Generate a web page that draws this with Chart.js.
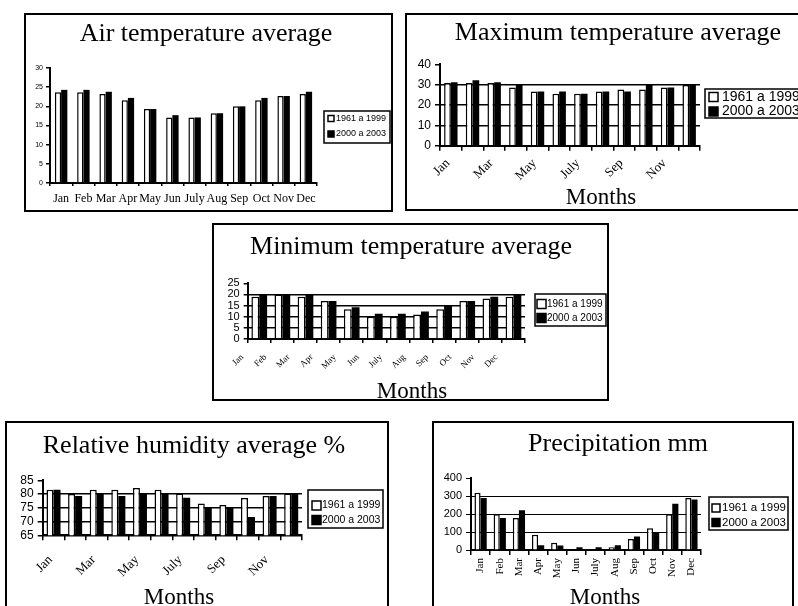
<!DOCTYPE html>
<html><head><meta charset="utf-8">
<script src="https://cdn.jsdelivr.net/npm/chart.js@4.4.1/dist/chart.umd.min.js"></script>
<style>
html,body{margin:0;padding:0;background:#fff;width:798px;height:606px;overflow:hidden;position:relative}
.box{position:absolute;border:2px solid #000;box-sizing:border-box;background:#fff}
.box canvas{display:block}
</style></head><body>
<div class="box" id="b1"><canvas id="c1"></canvas></div>
<div class="box" id="b2"><canvas id="c2"></canvas></div>
<div class="box" id="b3"><canvas id="c3"></canvas></div>
<div class="box" id="b4"><canvas id="c4"></canvas></div>
<div class="box" id="b5"><canvas id="c5"></canvas></div>
<script>
// ---------- data ----------
const months = ['Jan','Feb','Mar','Apr','May','Jun','July','Aug','Sep','Oct','Nov','Dec'];
const seriesLabels = ['1961 a 1999','2000 a 2003'];

const airTemp1961 = [23.7,23.7,23.2,21.6,19.3,17.1,17.1,18.2,20.0,21.6,22.7,23.2];
const airTemp2000 = [24.3,24.3,23.8,22.2,19.3,17.7,17.1,18.2,20.0,22.2,22.7,23.8];

const maxTemp1961 = [30.8,30.8,30.8,28.6,26.6,25.5,25.5,26.6,27.6,27.6,28.6,29.8];
const maxTemp2000 = [31.2,32.2,31.2,29.8,26.6,26.6,25.5,26.6,26.6,29.8,28.6,29.8];

const minTemp1961 = [19.0,20.0,19.0,17.0,13.3,10.0,10.0,11.0,13.3,17.0,18.2,19.0];
const minTemp2000 = [20.0,20.0,20.0,17.0,14.2,11.3,11.3,12.3,15.0,17.0,19.0,20.0];

const humidity1961 = [81.6,80.0,81.6,81.6,82.2,81.6,80.2,76.6,76.0,78.6,79.3,80.2];
const humidity2000 = [81.6,79.3,80.2,79.3,80.2,80.2,78.7,75.3,75.3,71.7,79.3,80.2];

const precip1961 = [320,200,178,85,40,3,3,15,62,122,200,290];
const precip2000 = [290,178,222,27,25,15,15,27,75,100,258,282];

const airTicks = [0,30,5];
const maxTicks = [0,40,10];
const minTicks = [0,25,5];
const humTicks = [65,85,5];
const precipTicks = [0,400,100];

// ---------- helpers ----------
const SERIF = "'Liberation Serif','Times New Roman',serif";
const SANS = "'Liberation Sans',Arial,sans-serif";

function decor(g){
  return {
    id:'decor',
    afterDraw(chart){
      const ctx = chart.ctx; ctx.save();
      const L = g.legend;
      ctx.lineWidth = 1.5; ctx.strokeStyle = '#000';
      ctx.strokeRect(L.x, L.y, L.w, L.h);
      chart.data.datasets.forEach((ds,i)=>{
        const y = L.rows[i];
        ctx.fillStyle = ds.backgroundColor;
        ctx.fillRect(L.sx, y - L.s/2, L.s, L.s);
        ctx.lineWidth = 1.5; ctx.strokeStyle = '#000';
        ctx.strokeRect(L.sx, y - L.s/2, L.s, L.s);
        ctx.fillStyle = '#000';
        ctx.font = L.f + 'px ' + SANS;
        ctx.textBaseline = 'middle'; ctx.textAlign = 'left';
        ctx.fillText(ds.label, L.tx, y);
      });
      if (g.xt){
        ctx.font = g.xt.f + 'px ' + SERIF;
        ctx.fillStyle = '#000'; ctx.textAlign = 'center'; ctx.textBaseline = 'alphabetic';
        ctx.fillText(g.xt.text, g.xt.x, g.xt.y);
      }
      ctx.restore();
    }
  };
}

function make(n, s){
  const box = document.getElementById('b'+n);
  Object.assign(box.style,{left:s.box[0]+'px',top:s.box[1]+'px',width:s.box[2]+'px',height:s.box[3]+'px'});
  const ox = s.box[0]+2, oy = s.box[1]+2, W = s.box[2]-4, H = s.box[3]-4;
  const pl = s.plot[0]-ox, pr = s.plot[1]-ox, pt = s.plot[2]-oy, pb = s.plot[3]-oy;
  const tcx = s.title.cx - ox;
  let padL = 0, padR = 0;
  if (tcx < W/2) padR = W - 2*tcx; else padL = 2*tcx - W;
  const tSize = s.title.size, lh = tSize*1.2;
  const padT = (s.title.base-oy) - 0.3375*tSize - lh/2;
  const padB = pt - lh - padT;
  const xH = H - pb;
  const Lg = s.legend;
  const geo = {
    legend:{x:Lg.rect[0]-ox,y:Lg.rect[1]-oy,w:Lg.rect[2],h:Lg.rect[3],s:Lg.s,sx:Lg.sx-ox,tx:Lg.tx-ox,rows:Lg.rows.map(r=>r-oy),f:Lg.f},
    xt: s.xt ? {text:'Months', x:s.xt.x-ox, y:s.xt.y-oy, f:s.xt.f} : null
  };
  const [ymin,ymax,step] = s.ticks;
  const canvas = document.getElementById('c'+n);
  new Chart(canvas,{
    type:'bar',
    data:{labels:months, datasets:[
      {label:seriesLabels[0], data:s.a, backgroundColor:'#ffffff', borderColor:'#000', borderWidth:s.bw||1.5, borderSkipped:'bottom', barPercentage:1, categoryPercentage:s.cp},
      {label:seriesLabels[1], data:s.b, backgroundColor:'#000000', borderColor:'#000', borderWidth:0, barPercentage:1, categoryPercentage:s.cp}
    ]},
    options:{
      responsive:true, maintainAspectRatio:false, animation:false,
      layout:{padding:{left:padL,top:0,right:padR,bottom:0}},
      plugins:{
        legend:{display:false}, tooltip:{enabled:false},
        title:{display:true, text:s.title.text, color:'#000', font:{family:SERIF,size:tSize,weight:'normal',lineHeight:1.2}, padding:{top:padT,bottom:padB}}
      },
      scales:{
        x:{
          offset:true,
          grid:{offset:true, drawOnChartArea:false, color:'#000', lineWidth:1.5, tickLength:s.xtl},
          border:{color:'#000', width:2},
          ticks:{color:'#000', font:{family:SERIF,size:s.xf}, autoSkip:false, minRotation:s.rot, maxRotation:s.rot, padding:s.xpad, labelOffset:s.xoff||0,
            callback:function(v,i){ return (s.every2 && i%2) ? '' : this.getLabelForValue(v); }},
          afterFit:sc=>{ sc.height = xH; }
        },
        y:{
          min:ymin, max:ymax,
          ticks:{stepSize:step, autoSkip:false, color:'#000', font:{family:SANS,size:s.yf}, padding:s.ypad},
          grid:{drawOnChartArea:!!s.grid, color:c=> (c.tick && c.tick.value===ymax) ? 'rgba(0,0,0,0)' : '#000', tickColor:'#000', lineWidth:s.glw||1.5, tickLength:s.ytl},
          border:{color:'#000', width:2},
          afterFit:sc=>{ sc.width = pl - padL; }
        },
        side:{
          type:'linear', position:'right', display:true,
          grid:{display:false}, border:{display:false}, ticks:{display:false},
          afterFit:sc=>{ sc.width = (W - padR) - pr; }
        }
      }
    },
    plugins:[decor(geo)]
  });
}

make(1,{
  box:[24,13,369,199], plot:[50,317,68,183],
  title:{text:'Air temperature average', size:26, base:43, cx:206},
  a:airTemp1961, b:airTemp2000, ticks:airTicks, cp:0.56,
  xf:12, rot:0, xtl:3, xpad:6, every2:false,
  yf:7, ypad:3, ytl:4, grid:false,
  legend:{rect:[324,111,66,32], s:6, sx:328, tx:336, rows:[118.5,134], f:9}
});
make(2,{
  box:[405,13,426,198], plot:[440,700,64.3,145.7],
  title:{text:'Maximum temperature average', size:26, base:41.7, cx:618},
  a:maxTemp1961, b:maxTemp2000, ticks:maxTicks, cp:0.62,
  xf:13, rot:45, xtl:5, xpad:5, xoff:-3, every2:true,
  yf:12, ypad:4, ytl:5, grid:true,
  legend:{rect:[705,89,110,29], s:9, sx:709, tx:722, rows:[97,111.5], f:14},
  xt:{x:601, y:204, f:23}
});
make(3,{
  box:[212,223,397,178], plot:[247.7,525,283.3,339],
  title:{text:'Minimum temperature average', size:26, base:256, cx:411},
  a:minTemp1961, b:minTemp2000, ticks:minTicks, cp:0.68,
  xf:9, rot:45, xtl:4, xpad:9, xoff:-17, every2:false,
  yf:11, ypad:4, ytl:4, grid:true,
  legend:{rect:[535,294,71,32], s:9, sx:537, tx:547, rows:[304,318], f:10},
  xt:{x:412, y:397.5, f:23}
});
make(4,{
  box:[5,421,384,200], plot:[42.7,302,480.3,535.3],
  title:{text:'Relative humidity average %', size:26, base:454.7, cx:194},
  a:humidity1961, b:humidity2000, ticks:humTicks, cp:0.65,
  xf:13, rot:45, xtl:5, xpad:12, xoff:-3, every2:true,
  yf:12, ypad:4, ytl:5, grid:true,
  legend:{rect:[308,490,75,38], s:9, sx:312, tx:322, rows:[505.5,520], f:10.5},
  xt:{x:179, y:604, f:23}
});
make(5,{
  box:[432,421,362,200], plot:[471,701,478.3,550],
  title:{text:'Precipitation mm', size:26, base:453, cx:618},
  a:precip1961, b:precip2000, ticks:precipTicks, cp:0.64, glw:1,
  xf:11, rot:90, xtl:5, xpad:3, every2:false,
  yf:11, ypad:4, ytl:5, grid:true,
  legend:{rect:[709,497,79,33], s:8, sx:712, tx:722, rows:[508,522.5], f:11.5},
  xt:{x:605, y:604, f:23}
});
</script>
</body></html>
